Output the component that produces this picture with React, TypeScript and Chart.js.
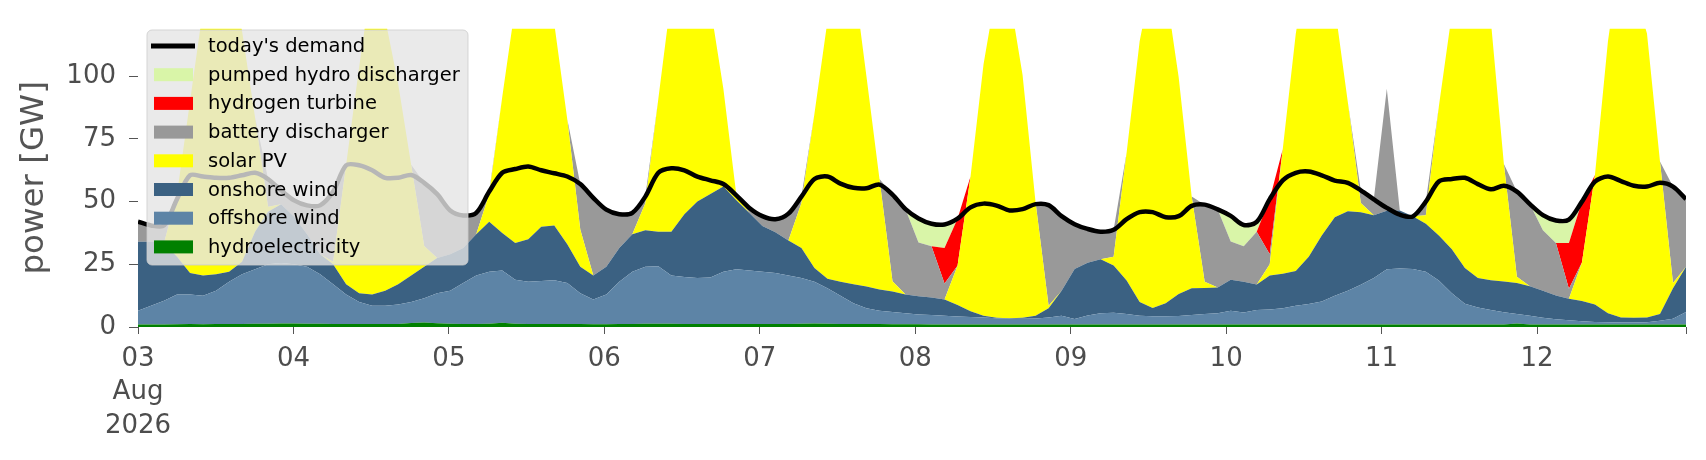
import { useEffect, useRef } from 'react'
import { Chart, registerables } from 'chart.js'

Chart.register(...registerables)
Chart.defaults.font.family = "'DejaVu Sans', sans-serif"

// x axis: hours since 03 Aug 2026 00:00
const dayLabels = [['03', 'Aug', '2026'], '04', '05', '06', '07', '08', '09', '10', '11', '12']
const dayTicks = [0, 24, 48, 72, 96, 120, 144, 168, 192, 216, 239]
const yTicks = [0, 25, 50, 75, 100]
const lastHour = 239

// generation in GW, one sample every ~2 h (12 per day)
const hydro = [
  1.0, 1.0, 1.0, 1.1, 1.2, 1.1, 1.2, 1.2, 1.2, 1.3, 1.3, 1.4,
  1.4, 1.3, 1.3, 1.2, 1.2, 1.2, 1.2, 1.2, 1.2, 1.6, 1.8, 1.5,
  1.3, 1.2, 1.2, 1.3, 1.7, 1.3, 1.2, 1.2, 1.2, 1.2, 1.2, 1.1,
  1.1, 1.2, 1.2, 1.3, 1.3, 1.3, 1.2, 1.2, 1.2, 1.2, 1.2, 1.2,
  1.2, 1.2, 1.2, 1.3, 1.4, 1.3, 1.2, 1.2, 1.2, 1.2, 1.1, 1.1,
  1.1, 1.0, 1.0, 1.0, 1.0, 1.0, 1.0, 1.0, 1.0, 1.0, 1.0, 1.0,
  1.0, 1.0, 1.0, 1.0, 1.0, 1.0, 1.0, 1.0, 1.0, 1.0, 1.0, 1.0,
  1.0, 1.0, 1.0, 1.0, 1.0, 1.0, 1.0, 1.0, 1.0, 1.0, 1.0, 1.0,
  1.0, 1.0, 1.0, 1.0, 1.0, 1.0, 1.0, 1.0, 1.0, 1.0, 1.4, 1.0,
  1.0, 1.0, 1.0, 1.0, 1.0, 1.0, 1.0, 1.0, 1.0, 1.0, 1.0, 1.0,
]
const offshore = [
  5.5, 7.5, 9.5, 11.9, 11.8, 11.4, 13.3, 16.8, 19.8, 21.7, 23.7, 24.1,
  23.6, 22.7, 19.7, 15.8, 11.8, 8.8, 7.3, 7.3, 7.8, 8.4, 9.7, 12,
  13.2, 16.3, 19.3, 20.7, 20.8, 17.5, 16.8, 17.1, 17.4, 16.3, 12.3, 9.9,
  11.9, 16.8, 20.8, 22.7, 22.9, 19.2, 18.7, 18.3, 18.5, 20.8, 21.8, 21.3,
  20.8, 20.3, 19.3, 18.2, 16.6, 14.2, 11.3, 8.3, 6.3, 5.3, 4.9, 4.4,
  3.9, 3.8, 3.5, 3.2, 3.0, 2.8, 2.5, 2.3, 2.3, 2.4, 2.8, 3.5,
  2.2, 3.6, 4.5, 4.7, 4.2, 3.5, 3.3, 3.3, 3.4, 3.8, 4.2, 4.5,
  5.5, 4.8, 5.8, 6.0, 6.5, 7.5, 8.2, 9.2, 11.5, 13.5, 15.8, 18.5,
  22, 22.3, 22.1, 21, 17.5, 12.5, 8.3, 6.8, 5.8, 4.9, 3.8, 3.5,
  2.7, 2.1, 1.7, 1.3, 1.0, 0.9, 0.8, 0.8, 0.9, 1.5, 2.3, 5.0,
]
const onshore = [
  27.5, 25.5, 23, 15, 8.5, 8, 6.5, 4, 5, 15, 21, 23.5,
  19, 13, 8, 8, 4, 3.5, 4.5, 6, 8, 10.5, 12.5, 14,
  14.5, 14, 16.5, 20, 15, 14.7, 17, 21.7, 21.9, 15.5, 10.5, 9.5,
  11, 13.5, 15, 14.6, 13.8, 17.5, 25.1, 30.5, 33.3, 34, 27.5, 23,
  18.3, 16.3, 14, 12, 5.5, 3.7, 5.5, 7.5, 8.7, 8.5, 8.2, 7.5,
  7.3, 7, 6.5, 4.6, 2.3, 0.7, 0.2, 0.2, 0.4, 1.1, 3.7, 10,
  19.9, 21, 21.5, 18.8, 13.3, 5.5, 3.3, 5.2, 8.8, 10.7, 10.4, 10.3,
  12.3, 12.2, 10.1, 13.5, 13.7, 13.8, 18.8, 26.3, 31.3, 31.7, 29, 25.1,
  23.4, 23.2, 21.1, 19.2, 18, 17.5, 14.2, 11.7, 11.8, 12.2, 12.3, 11.8,
  10.8, 9.5, 8.6, 8.1, 7, 3.6, 2, 1.9, 1.9, 2.7, 12.2, 18,
]
const solar = [
  0, 0, 0, 25, 68.5, 106.5, 134, 123, 92, 45.5, 2, 0,
  0, 0, 0, 1, 47.7, 90.2, 127, 108.5, 80, 44.2, 8.3, 0,
  0, 0, 0, 11, 54.2, 94.5, 120, 100, 80.5, 49.8, 14.9, 0,
  0, 0, 0, 10.8, 53, 94, 115, 100, 75, 39, 2, 0,
  0, 0, 0, 18, 61.5, 102.8, 132, 123, 83.7, 44, 4, 0,
  0, 0, 0, 15.6, 53.7, 100.3, 131.3, 128.5, 96.8, 45.1, 1, 0,
  0, 0, 0, 3.5, 51.1, 104, 132.4, 125.5, 86.4, 36.5, 2.4, 0,
  0, 0, 0, 4.5, 49.7, 94.5, 122, 113.5, 84.2, 43.6, 3.7, 0,
  0, 0, 0, 3.4, 51.4, 94, 131.5, 130.5, 103.4, 46.9, 2.5, 0,
  0, 0, 0, 15.3, 51.6, 108.5, 146.2, 131.3, 113.2, 60.8, 2, 0,
]
const battery = [
  8, 6.5, 7, 0, 0, 0, 0, 0, 0, 0, 11, 5.5,
  6.5, 11.5, 19.5, 28, 0, 0, 0, 0, 0, 0, 25.2, 25.5,
  17.5, 13, 8.5, 1, 0, 0, 0, 0, 0, 0, 18.1, 31,
  22.8, 13.5, 8.5, 2.6, 0, 0, 0, 0, 0, 0, 0, 2,
  3.9, 5.2, 10.7, 2.5, 0, 0, 0, 0, 0, 0, 34.6, 34,
  21.4, 20.4, 6.3, 0, 0, 0, 0, 0, 0, 0, 40.1, 29.7,
  17.9, 13.5, 11, 10.8, 0, 0, 0, 0, 0, 0, 30.8, 31.1,
  15.3, 14.2, 21.1, 4, 0, 0, 0, 0, 0, 0, 5, 6.3,
  48.6, 0, 0, 5.4, 0, 0, 0, 0, 0, 0, 34, 32.7,
  24.1, 20.9, 4, 0, 0, 0, 0, 0, 0, 0, 38.5, 27,
]
const hydrogen = [
  0, 0, 0, 0, 0, 0, 0, 0, 0, 0, 0, 0,
  0, 0, 0, 0, 0, 0, 0, 0, 0, 0, 0, 0,
  0, 0, 0, 0, 0, 0, 0, 0, 0, 0, 0, 0,
  0, 0, 0, 0, 0, 0, 0, 0, 0, 0, 0, 0,
  0, 0, 0, 0, 0, 0, 0, 0, 0, 0, 0, 0,
  0, 0, 14.2, 18.8, 0, 0, 0, 0, 0, 0, 0, 0,
  0, 0, 0, 0, 0, 0, 0, 0, 0, 0, 0, 0,
  0, 0, 0, 22, 0, 0, 0, 0, 0, 0, 0, 0,
  0, 0, 0, 0, 0, 0, 0, 0, 0, 0, 0, 0,
  0, 0, 18.2, 24.3, 0, 0, 0, 0, 0, 0, 0, 0,
]
const pumped = [
  0, 0, 0, 0, 0, 0, 0, 0, 0, 0, 0, 0,
  0, 0, 0, 0, 0, 0, 0, 0, 0, 0, 0, 0,
  0, 0, 0, 0, 0, 0, 0, 0, 0, 0, 0, 0,
  0, 0, 0, 0, 0, 0, 0, 0, 0, 0, 0, 0,
  0, 0, 0, 0, 0, 0, 0, 0, 0, 0, 0, 0,
  9.6, 9, 9.4, 0, 0, 0, 0, 0, 0, 0, 0, 0,
  0, 0, 0, 0, 0, 0, 0, 0, 0, 0, 0, 0,
  10.2, 8.5, 3.9, 0, 0, 0, 0, 0, 0, 0, 0, 0,
  0, 0, 0, 0, 0, 0, 0, 0, 0, 0, 0, 0,
  6, 9, 9.3, 0, 0, 0, 0, 0, 0, 0, 0, 0,
]
const demand = [
  42, 40.5, 40.5, 51, 60.5, 60, 59.5, 59.5, 60.5, 61.5, 59, 54.5,
  50.5, 48.5, 48.5, 54, 64.5, 64.5, 62.5, 59.5, 59.5, 60.6, 57.5, 53,
  46.5, 44.5, 45.5, 54, 61.5, 63, 64, 62.5, 61.3, 60, 57, 51.5,
  46.8, 45, 45.5, 52, 61.5, 63.3, 62.5, 60, 58.5, 57, 52.5, 47.5,
  44.2, 43, 45.2, 52, 59, 60, 57.2, 55.5, 55.3, 56.8, 52.8, 47,
  43.3, 41.2, 40.9, 43.2, 47.7, 49.2, 48.4, 46.5, 47, 49, 48.6, 44.2,
  41, 39.1, 38, 38.8, 43, 45.8, 45.8, 43.8, 44.2, 48.3, 48.8, 46.9,
  44.3, 40.7, 41.9, 51, 58.5, 61.5, 62, 60.5, 58.4, 57.5, 54.5, 50.9,
  47.5, 44.8, 44.1, 50, 58, 59, 59.5, 57, 54.9, 56.3, 54, 49,
  44.6, 42.5, 42.8, 50, 58, 60, 58.2, 56.3, 56, 57.5, 56, 51,
]

const toPoints = (values: number[]) =>
  values.map((y, i) => ({ x: (i * lastHour) / (values.length - 1), y }))

// stacked from the bottom up
const areas = [
  { label: 'hydroelectricity', values: hydro, color: '#008000' },
  { label: 'offshore wind', values: offshore, color: '#5d84a6' },
  { label: 'onshore wind', values: onshore, color: '#3b6182' },
  { label: 'solar PV', values: solar, color: '#ffff00' },
  { label: 'battery discharger', values: battery, color: '#999999' },
  { label: 'hydrogen turbine', values: hydrogen, color: '#ff0000' },
  { label: 'pumped hydro discharger', values: pumped, color: '#d9f5a8' },
]

// legend sits inside the plot, drawn over the areas
const legendBox = {
  id: 'legendBox',
  afterDatasetsDraw(chart: any) {
    const ctx = chart.ctx as CanvasRenderingContext2D
    ctx.save()
    ctx.beginPath()
    ctx.roundRect(147, 30, 321, 235, 5)
    ctx.fillStyle = 'rgba(229,229,229,0.8)'
    ctx.fill()
    ctx.strokeStyle = 'rgba(204,204,204,0.8)'
    ctx.lineWidth = 1
    ctx.stroke()

    const items = [
      { label: "today's demand", color: '#000000', line: true },
      ...[...areas].reverse().map((a) => ({ label: a.label, color: a.color, line: false })),
    ]
    ctx.font = "19.5px 'DejaVu Sans', sans-serif"
    ctx.textBaseline = 'middle'
    items.forEach((item, i) => {
      const y = 46 + i * 28.7
      if (item.line) {
        ctx.strokeStyle = item.color
        ctx.lineWidth = 5
        ctx.beginPath()
        ctx.moveTo(151, y)
        ctx.lineTo(195, y)
        ctx.stroke()
      } else {
        ctx.fillStyle = item.color
        ctx.fillRect(154, y - 6.5, 39, 13)
      }
      ctx.fillStyle = '#000000'
      ctx.fillText(item.label, 208, y + 1)
    })
    ctx.restore()
  },
}

export default function App() {
  const canvasRef = useRef<HTMLCanvasElement>(null)

  useEffect(() => {
    if (!canvasRef.current) return

    const datasets: any[] = areas.map((a, i) => ({
      label: a.label,
      data: toPoints(a.values),
      backgroundColor: a.color,
      borderColor: 'rgba(0,0,0,0)',
      borderWidth: 0,
      pointRadius: 0,
      fill: i === 0 ? 'origin' : '-1',
      stack: 'generation',
      order: 1,
    }))
    datasets.push({
      label: "today's demand",
      data: toPoints(demand),
      borderColor: '#000000',
      borderWidth: 4.5,
      pointRadius: 0,
      fill: false,
      tension: 0.3,
      stack: 'demand',
      order: 0,
    })

    const chart = new Chart(canvasRef.current, {
      type: 'line',
      data: { datasets },
      options: {
        responsive: false,
        animation: false,
        devicePixelRatio: 1,
        layout: { padding: { left: 0, right: 20, top: 22, bottom: 0 } },
        plugins: { legend: { display: false }, tooltip: { enabled: false } },
        scales: {
          x: {
            type: 'linear',
            min: 0,
            max: lastHour,
            border: { display: false },
            grid: { drawOnChartArea: false, drawTicks: true, tickLength: 7, tickColor: '#555555', tickWidth: 1 },
            ticks: {
              color: '#4d4d4d',
              font: { size: 26, lineHeight: 1.3 },
              padding: 8,
              maxRotation: 0,
              autoSkip: false,
              callback: (_v: any, i: number) => dayLabels[i] ?? '',
            },
            afterBuildTicks: (scale: any) => {
              scale.ticks = dayTicks.map((value) => ({ value }))
            },
            afterFit: (scale: any) => {
              scale.height = 133
            },
          },
          y: {
            stacked: true,
            min: 0,
            max: 119,
            border: { display: false },
            grid: { drawOnChartArea: false, drawTicks: true, tickLength: 9, tickColor: '#555555', tickWidth: 1 },
            ticks: { color: '#4d4d4d', font: { size: 26 }, padding: 13 },
            afterBuildTicks: (scale: any) => {
              scale.ticks = yTicks.map((value) => ({ value }))
            },
            afterFit: (scale: any) => {
              scale.width = 138
            },
            title: {
              display: true,
              text: 'power [GW]',
              color: '#555555',
              font: { size: 32.5 },
              padding: { top: 15, bottom: 0 },
            },
          },
        },
      } as any,
      plugins: [legendBox],
    })

    return () => chart.destroy()
  }, [])

  return (
    <div style={{ position: 'fixed', left: 0, top: 0, width: 1706, height: 460, background: '#ffffff' }}>
      <canvas ref={canvasRef} width={1706} height={460} style={{ width: 1706, height: 460 }} />
    </div>
  )
}
